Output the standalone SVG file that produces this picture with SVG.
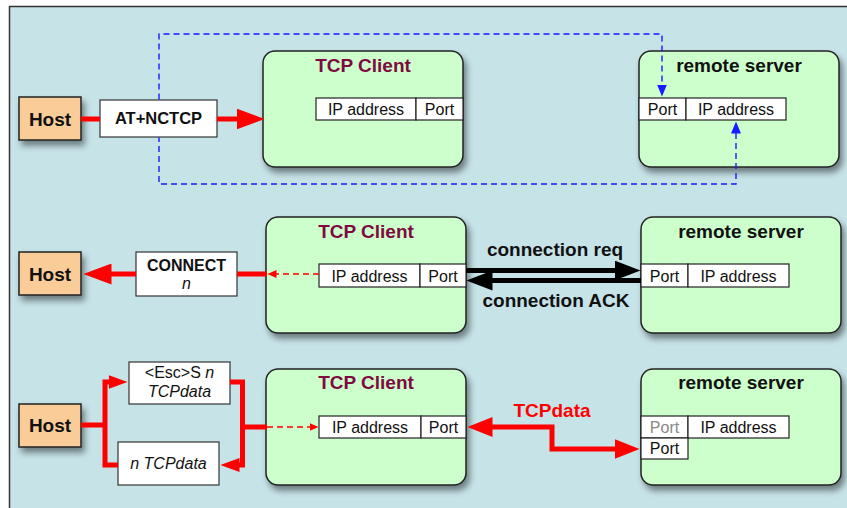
<svg xmlns="http://www.w3.org/2000/svg" width="847" height="508" viewBox="0 0 847 508">
<defs>
<style>
text{font-family:"Liberation Sans",Arial,sans-serif;fill:#111}
.b{font-weight:bold}
.t{font-size:19px;font-weight:bold;text-anchor:middle}
.tc{fill:#7f0a3f}
.r{font-size:16px;text-anchor:middle}
.i{font-style:italic}
.host{fill:#facc98;stroke:#222;stroke-width:1.5}
.big{fill:#ccffcc;stroke:#222;stroke-width:1.5}
.cell{fill:#fff;stroke:#222;stroke-width:1.2}
.lab{fill:#fff;stroke:#333;stroke-width:1.2}
.red{fill:none;stroke:#ff0000;stroke-width:5}
.redd{fill:none;stroke:#ff0000;stroke-width:1.5;stroke-dasharray:6 4}
.blk{fill:none;stroke:#000;stroke-width:5}
.blue{fill:none;stroke:#1a1aff;stroke-width:1.4;stroke-dasharray:6 4}
</style>
<filter id="sh" x="-20%" y="-20%" width="150%" height="160%">
<feDropShadow dx="3" dy="5" stdDeviation="3" flood-color="#000" flood-opacity="0.45"/>
</filter>
<marker id="rBig" markerUnits="userSpaceOnUse" markerWidth="28" markerHeight="21" refX="0.5" refY="10.5" orient="auto-start-reverse" viewBox="0 0 28 21"><path d="M0,0 L28,10.5 L0,21 z" fill="#ff0000"/></marker>
<marker id="rMed" markerUnits="userSpaceOnUse" markerWidth="25" markerHeight="20" refX="0.5" refY="10" orient="auto-start-reverse" viewBox="0 0 25 20"><path d="M0,0 L25,10 L0,20 z" fill="#ff0000"/></marker>
<marker id="rSm" markerUnits="userSpaceOnUse" markerWidth="19" markerHeight="14" refX="0.5" refY="7" orient="auto-start-reverse" viewBox="0 0 19 14"><path d="M0,0 L19,7 L0,14 z" fill="#ff0000"/></marker>
<marker id="rTiny" markerUnits="userSpaceOnUse" markerWidth="9" markerHeight="8" refX="0.5" refY="4" orient="auto-start-reverse" viewBox="0 0 9 8"><path d="M0,0 L9,4 L0,8 z" fill="#ff0000"/></marker>
<marker id="kH" markerUnits="userSpaceOnUse" markerWidth="26" markerHeight="20" refX="0.5" refY="10" orient="auto-start-reverse" viewBox="0 0 26 20"><path d="M0,0 L26,10 L0,20 z" fill="#000"/></marker>
<marker id="bH" markerUnits="userSpaceOnUse" markerWidth="12" markerHeight="10" refX="0.5" refY="5" orient="auto-start-reverse" viewBox="0 0 12 10"><path d="M0,0 L12,5 L0,10 z" fill="#1a1aff"/></marker>
</defs>
<rect x="0" y="0" width="847" height="508" fill="#fff"/>
<rect x="9.5" y="6.5" width="850" height="520" fill="#c6e3e8" stroke="#333" stroke-width="1.5"/>

<g id="host1"><rect class="host" x="19" y="97" width="62" height="43" filter="url(#sh)"/><text class="t" x="50" y="126">Host</text></g>
<g id="atnctcp"><rect class="lab" x="100" y="100" width="117" height="37"/><text class="b" x="158.5" y="124" text-anchor="middle" font-size="16.5">AT+NCTCP</text></g>
<g id="tcpclient1"><rect class="big" x="263" y="51" width="200" height="116" rx="12" filter="url(#sh)"/><text class="t tc" x="363" y="72">TCP Client</text>
<rect class="cell" x="316" y="98" width="100" height="22"/><rect class="cell" x="416" y="98" width="47" height="22"/>
<text class="r" x="366" y="115">IP address</text><text class="r" x="439.5" y="115">Port</text></g>
<g id="server1"><rect class="big" x="639" y="51" width="200" height="116" rx="12" filter="url(#sh)"/><text class="t" x="739" y="72">remote server</text>
<rect class="cell" x="639" y="98" width="47" height="22"/><rect class="cell" x="686" y="98" width="100" height="22"/>
<text class="r" x="662.5" y="115">Port</text><text class="r" x="736" y="115">IP address</text></g>

<g id="host2"><rect class="host" x="19" y="252" width="62" height="43" filter="url(#sh)"/><text class="t" x="50" y="281">Host</text></g>
<g id="connect"><rect class="lab" x="136" y="252" width="101" height="44"/><text class="b" x="186.5" y="271" text-anchor="middle" font-size="16">CONNECT</text><text class="r i" x="186.5" y="289">n</text></g>
<g id="tcpclient2"><rect class="big" x="266" y="217" width="200" height="116" rx="12" filter="url(#sh)"/><text class="t tc" x="366" y="238">TCP Client</text>
<rect class="cell" x="319" y="264" width="101" height="23"/><rect class="cell" x="420" y="264" width="46" height="23"/>
<text class="r" x="369.5" y="282">IP address</text><text class="r" x="443" y="282">Port</text></g>
<g id="server2"><rect class="big" x="641" y="217" width="200" height="116" rx="12" filter="url(#sh)"/><text class="t" x="741" y="238">remote server</text>
<rect class="cell" x="641" y="264" width="47" height="23"/><rect class="cell" x="688" y="264" width="101" height="23"/>
<text class="r" x="664.5" y="282">Port</text><text class="r" x="738.5" y="282">IP address</text></g>

<g id="host3"><rect class="host" x="19" y="404" width="62" height="43" filter="url(#sh)"/><text class="t" x="50" y="432">Host</text></g>
<g id="escs"><rect class="lab" x="129" y="362" width="101" height="42"/><text class="r" x="179.5" y="378">&lt;Esc&gt;S <tspan class="i">n</tspan></text><text class="r i" x="179.5" y="397">TCPdata</text></g>
<g id="ntcpdata"><rect class="lab" x="118" y="442" width="101" height="43"/><text class="r i" x="168.5" y="469">n TCPdata</text></g>
<g id="tcpclient3"><rect class="big" x="266" y="369" width="200" height="116" rx="12" filter="url(#sh)"/><text class="t tc" x="366" y="389">TCP Client</text>
<rect class="cell" x="319" y="416" width="102" height="22"/><rect class="cell" x="421" y="416" width="45" height="22"/>
<text class="r" x="370" y="433">IP address</text><text class="r" x="443.5" y="433">Port</text></g>
<g id="server3"><rect class="big" x="641" y="369" width="200" height="116" rx="12" filter="url(#sh)"/><text class="t" x="741" y="389">remote server</text>
<rect class="cell" x="641" y="416" width="47" height="22"/><rect class="cell" x="688" y="416" width="101" height="22"/><rect class="cell" x="641" y="438" width="47" height="21"/>
<text class="r" x="664.5" y="433" style="fill:#888">Port</text><text class="r" x="738.5" y="433">IP address</text><text class="r" x="664.5" y="454">Port</text></g>

<g id="connectors">
<path class="blue" d="M736,133 V184 H159 V137.5 M159,99.5 V34 H662 V85" marker-start="url(#bH)" marker-end="url(#bH)"/>
<path class="red" d="M81,119 H100"/>
<path class="red" d="M217,119 H237" marker-end="url(#rBig)"/>
<path class="red" d="M136,274 H111" marker-end="url(#rBig)"/>
<path class="red" d="M237,274 H267"/>
<path class="redd" d="M319,274 H276" marker-end="url(#rTiny)"/>
<path class="blk" d="M466,270.5 H615" marker-end="url(#kH)"/>
<path class="blk" d="M641,280.5 H492" marker-end="url(#kH)"/>
<path class="red" d="M81,425 H105"/>
<path class="red" d="M118,465 H105 V382 H109" marker-end="url(#rSm)"/>
<path class="red" d="M230,382 H242.5 V465 H239" marker-end="url(#rSm)"/>
<path class="red" d="M242,427 H267"/>
<path class="redd" d="M267,427 H310" marker-end="url(#rTiny)"/>
<path class="red" d="M492,427 H552 V449 H615" marker-start="url(#rMed)" marker-end="url(#rMed)"/>
</g>
<g id="edge-labels">
<text class="t" x="555" y="256">connection req</text><text class="t" x="556" y="307">connection ACK</text>
<text class="t" x="552" y="417" style="fill:#ff0000">TCPdata</text>
</g>
</svg>
